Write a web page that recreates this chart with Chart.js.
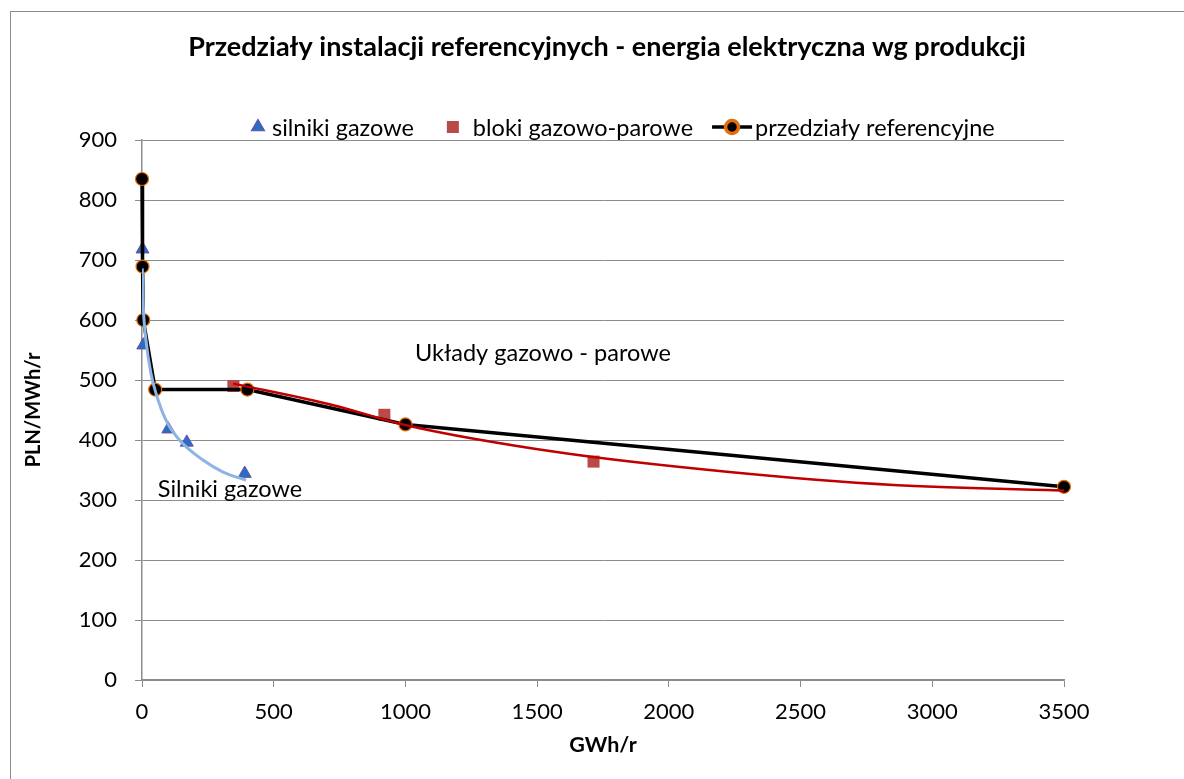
<!DOCTYPE html>
<html lang="pl">
<head>
<meta charset="utf-8">
<title>Przedziały instalacji referencyjnych</title>
<script src="https://cdn.jsdelivr.net/npm/chart.js@4.4.1/dist/chart.umd.min.js"></script>
<style>
    html, body { margin: 0; padding: 0; background: #fff; overflow: hidden; }
    .ramka {
        position: absolute;
        left: 10px;
        top: 11px;
        width: 1400px;
        height: 1000px;
        border: 1px solid #8c8c8c;
    }
    .wykres {
        position: absolute;
        left: 0;
        top: 0;
        width: 1184px;
        height: 779px;
    }
</style>
</head>
<body>
<div class="ramka"></div>
<div class="wykres"><canvas id="chart" width="1184" height="779"></canvas></div>
<script>
// Silniki gazowe (GWh/r -> PLN/MWh/r)
const silnikiX = [2, 5, 100, 170, 390];
const silnikiY = [718, 558, 418, 396, 344];

// Bloki gazowo-parowe
const blokiX = [347, 920, 1714];
const blokiY = [490, 442, 364];

// Przedziały referencyjne
const przedzialyX = [0, 2, 5, 50, 400, 1000, 3500];
const przedzialyY = [835, 689, 600, 484, 484, 426, 322];

// Linia trendu - silniki gazowe
const trendSilnikiX = [1, 5, 15, 34, 53, 91, 142, 230, 306, 395];
const trendSilnikiY = [686, 622, 567, 511, 478, 433, 400, 367, 347, 333];

// Linia trendu - bloki gazowo-parowe
const trendBlokiX = [346, 726, 998, 1587, 2220, 2852, 3500];
const trendBlokiY = [494, 458, 425, 379, 347, 325, 316];

// Podziałka osi
const ticksX = [0, 500, 1000, 1500, 2000, 2500, 3000, 3500];
const ticksY = [0, 100, 200, 300, 400, 500, 600, 700, 800, 900];

const tytul = 'Przedziały instalacji referencyjnych - energia elektryczna wg produkcji';
const labelsLegenda = ['silniki gazowe', 'bloki gazowo-parowe', 'przedziały referencyjne'];
const podpisy = ['Układy gazowo - parowe', 'Silniki gazowe'];
const podpisyX = [1522, 334];
const podpisyY = [545, 317];

const FONT = 'Lato, "Open Sans", sans-serif';

function punkty(xs, ys) {
    return xs.map((x, i) => ({ x: x, y: ys[i] }));
}

// Tytuł i legenda w stylu Excela: znacznik + tekst w jednym wierszu
const naglowekPlugin = {
    id: 'naglowek',
    afterDraw(chart) {
        const ctx = chart.ctx;
        ctx.save();

        ctx.font = 'bold 27px ' + FONT;
        ctx.fillStyle = '#000';
        ctx.textAlign = 'center';
        ctx.textBaseline = 'middle';
        ctx.fillText(tytul, 607, 47);

        const y = 127;
        const markerW = [14, 14, 40];
        const gap = [7, 13, 3];
        const itemGap = [32, 19];
        ctx.font = '23.5px ' + FONT;
        ctx.textAlign = 'left';
        let x = 251;
        labelsLegenda.forEach((t, i) => {
            const ds = chart.data.datasets[i];
            const cx = x + markerW[i] / 2;
            if (i === 2) {
                ctx.strokeStyle = ds.borderColor;
                ctx.lineWidth = ds.borderWidth;
                ctx.beginPath();
                ctx.moveTo(x, y);
                ctx.lineTo(x + markerW[i], y);
                ctx.stroke();
            }
            ctx.fillStyle = ds.pointBackgroundColor;
            ctx.strokeStyle = ds.pointBorderColor;
            Chart.helpers.drawPoint(ctx, {
                pointStyle: ds.pointStyle,
                radius: ds.pointRadius,
                borderWidth: ds.pointBorderWidth,
                rotation: 0
            }, cx, y);
            ctx.fillStyle = '#000';
            const tx = x + markerW[i] + gap[i];
            ctx.fillText(t, tx, y + 1);
            x = tx + ctx.measureText(t).width + (itemGap[i] || 0);
        });
        ctx.restore();
    }
};

// Podpisy obszarów na wykresie
const podpisyPlugin = {
    id: 'podpisy',
    afterDraw(chart) {
        const ctx = chart.ctx;
        const sx = chart.scales.x;
        const sy = chart.scales.y;
        ctx.save();
        ctx.font = '23.5px ' + FONT;
        ctx.fillStyle = '#000';
        ctx.textAlign = 'center';
        ctx.textBaseline = 'middle';
        podpisy.forEach((t, i) => {
            ctx.fillText(t, sx.getPixelForValue(podpisyX[i]), sy.getPixelForValue(podpisyY[i]));
        });
        ctx.restore();
    }
};

const ctx = document.getElementById('chart').getContext('2d');
new Chart(ctx, {
    type: 'scatter',
    data: {
        datasets: [
            {
                label: labelsLegenda[0],
                data: punkty(silnikiX, silnikiY),
                pointStyle: 'triangle',
                pointRadius: 7.5,
                pointBackgroundColor: '#2B6CC4',
                pointBorderColor: '#6A4FA3',
                pointBorderWidth: 1,
                showLine: false,
                clip: false,
                order: 3
            },
            {
                label: labelsLegenda[1],
                data: punkty(blokiX, blokiY),
                pointStyle: 'rect',
                pointRadius: 8.5,
                pointBackgroundColor: '#B94A48',
                pointBorderColor: '#B94A48',
                pointBorderWidth: 0,
                showLine: false,
                clip: false,
                order: 4
            },
            {
                label: labelsLegenda[2],
                data: punkty(przedzialyX, przedzialyY),
                showLine: true,
                borderColor: '#000',
                borderWidth: 3.5,
                pointStyle: 'circle',
                pointRadius: 6.5,
                pointBackgroundColor: '#000',
                pointBorderColor: '#E46C0A',
                pointBorderWidth: 1.2,
                tension: 0,
                clip: false,
                order: 2
            },
            {
                label: 'trend silniki',
                data: punkty(trendSilnikiX, trendSilnikiY),
                showLine: true,
                borderColor: '#8DB4E2',
                borderWidth: 3,
                pointRadius: 0,
                cubicInterpolationMode: 'monotone',
                order: 1
            },
            {
                label: 'trend bloki',
                data: punkty(trendBlokiX, trendBlokiY),
                showLine: true,
                borderColor: '#C00000',
                borderWidth: 2.5,
                pointRadius: 0,
                cubicInterpolationMode: 'monotone',
                order: 0
            }
        ]
    },
    options: {
        responsive: false,
        animation: false,
        layout: {
            padding: { left: 0, right: 120, top: 140, bottom: 0 }
        },
        plugins: {
            legend: { display: false },
            tooltip: { enabled: false },
            title: { display: false }
        },
        scales: {
            x: {
                type: 'linear',
                min: 0,
                max: 3500,
                afterFit(scale) { scale.height = 99; },
                afterBuildTicks(scale) { scale.ticks = ticksX.map(v => ({ value: v })); },
                grid: {
                    drawOnChartArea: false,
                    drawTicks: true,
                    tickLength: 7,
                    color: '#8c8c8c'
                },
                border: { color: '#8c8c8c', width: 1.5 },
                ticks: {
                    color: '#000',
                    padding: 12,
                    maxRotation: 0,
                    font: { family: FONT, size: 22 },
                    callback: v => String(v)
                },
                title: {
                    display: true,
                    text: 'GWh/r',
                    color: '#000',
                    font: { family: FONT, size: 21.5, weight: 'bold' },
                    padding: { top: 0, bottom: 21 }
                }
            },
            y: {
                type: 'linear',
                min: 0,
                max: 900,
                afterFit(scale) { scale.width = 142; },
                afterBuildTicks(scale) { scale.ticks = ticksY.map(v => ({ value: v })); },
                grid: {
                    color: '#8c8c8c',
                    lineWidth: 1,
                    drawTicks: true,
                    tickLength: 7
                },
                border: { color: '#8c8c8c', width: 1.5 },
                ticks: {
                    color: '#000',
                    padding: 18,
                    font: { family: FONT, size: 22 },
                    callback: v => String(v)
                },
                title: {
                    display: true,
                    text: 'PLN/MWh/r',
                    color: '#000',
                    font: { family: FONT, size: 20, weight: 'bold' },
                    padding: { top: 22, bottom: 0 }
                }
            }
        }
    },
    plugins: [naglowekPlugin, podpisyPlugin]
});
</script>
</body>
</html>
